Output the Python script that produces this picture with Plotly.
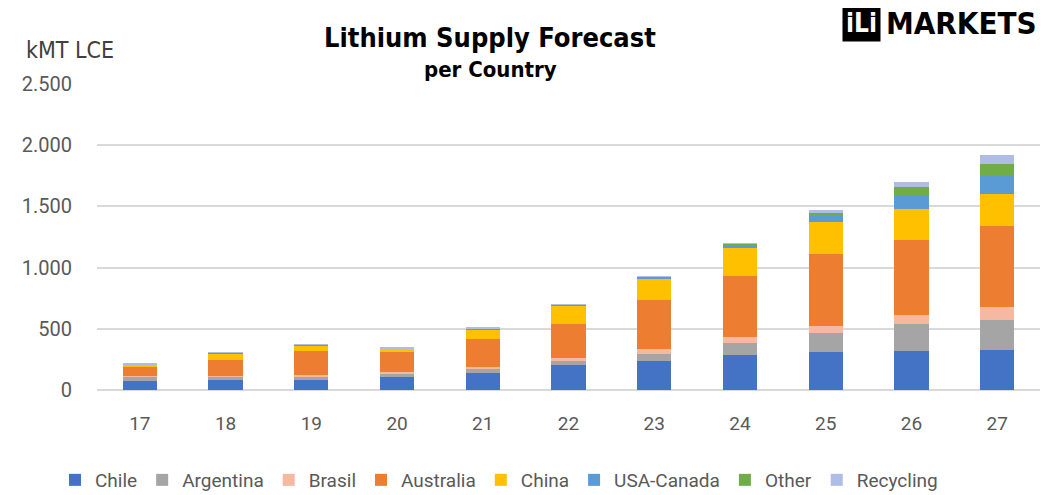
import plotly.graph_objects as go

years = ["17", "18", "19", "20", "21", "22", "23", "24", "25", "26", "27"]
chile = [75, 81, 81, 103, 141, 203, 233, 285, 309, 317, 323]
argentina = [35, 27, 31, 35, 30, 30, 65, 95, 160, 220, 252]
brasil = [8, 8, 7, 8, 18, 25, 35, 53, 54, 73, 100]
australia = [66, 128, 198, 161, 231, 279, 404, 502, 585, 615, 664]
china = [24, 57, 47, 32, 73, 152, 171, 225, 261, 257, 260]
usa_canada = [3, 5, 5, 4, 13, 10, 15, 32, 54, 101, 147]
other = [0, 0, 0, 0, 0, 0, 2, 3, 22, 76, 100]
recycling = [4, 4, 4, 5, 3, 3, 4, 4, 24, 43, 75]

series = [
    ("Chile", chile, "#4472C4"),
    ("Argentina", argentina, "#A5A5A5"),
    ("Brasil", brasil, "#F4B9A0"),
    ("Australia", australia, "#ED7D31"),
    ("China", china, "#FFC000"),
    ("USA-Canada", usa_canada, "#5B9BD5"),
    ("Other", other, "#70AD47"),
    ("Recycling", recycling, "#AFBCE4"),
]

fig = go.Figure()
for name, vals, color in series:
    fig.add_trace(go.Bar(x=years, y=vals, name=name, marker_color=color,
                         marker_line_width=0))

cond = "DejaVu Sans Condensed, Roboto"
base = "Roboto"
OFF = 8  # page body margin
W, H = 1060 - OFF, 495 - OFF
L, R, T, B = 97 - OFF, 20, 84 - OFF, H - (390 - OFF)
PW, PH = W - L - R, H - T - B


def px(x):
    return (x - OFF - L) / PW


def py(y):
    return (H - B - (y - OFF)) / PH


fig.update_layout(
    barmode="stack",
    bargap=0.6,
    width=W, height=H,
    margin=dict(l=L, r=R, t=T, b=B, autoexpand=False),
    paper_bgcolor="white", plot_bgcolor="white",
    separators=",.",
    font=dict(family=base, color="#595959", size=19),
    showlegend=True,
    legend=dict(orientation="h", xref="container", x=(499 - OFF) / W, xanchor="center",
                yref="container", y=1 - (480 - OFF) / H, yanchor="middle",
                font=dict(size=19, color="#595959", family=base),
                traceorder="normal", itemwidth=30),
    xaxis=dict(showgrid=False, showline=False, ticks="", automargin=False,
               tickfont=dict(size=19, color="#595959"), ticklabelstandoff=20),
    yaxis=dict(range=[0, 2500], dtick=500, tickformat=",d", showgrid=True, automargin=False,
               gridcolor="#D9D9D9", gridwidth=1.5, zeroline=True, zerolinecolor="#D9D9D9",
               zerolinewidth=1.5, ticks="", tickfont=dict(size=20, color="#595959"),
               ticklabelstandoff=24),
)

def note(text, x, y, size, color="black", xanchor="center", **kw):
    fig.add_annotation(text=text, xref="paper", yref="paper", x=px(x), y=py(y),
                       xanchor=xanchor, yanchor="middle", showarrow=False,
                       font=dict(size=size, color=color, family=cond), **kw)


note("<b>Lithium Supply Forecast</b>", 490, 37, 27)
note("<b>per Country</b>", 490, 70, 22)
note("kMT LCE", 24, 50, 23, color="#404040", xanchor="left")
note("<b>iLi</b>", 861, 23, 26, color="white", bgcolor="black", borderpad=3)
note("<b>MARKETS</b>", 884, 23, 31, xanchor="left")

fig.write_html("out.html")
